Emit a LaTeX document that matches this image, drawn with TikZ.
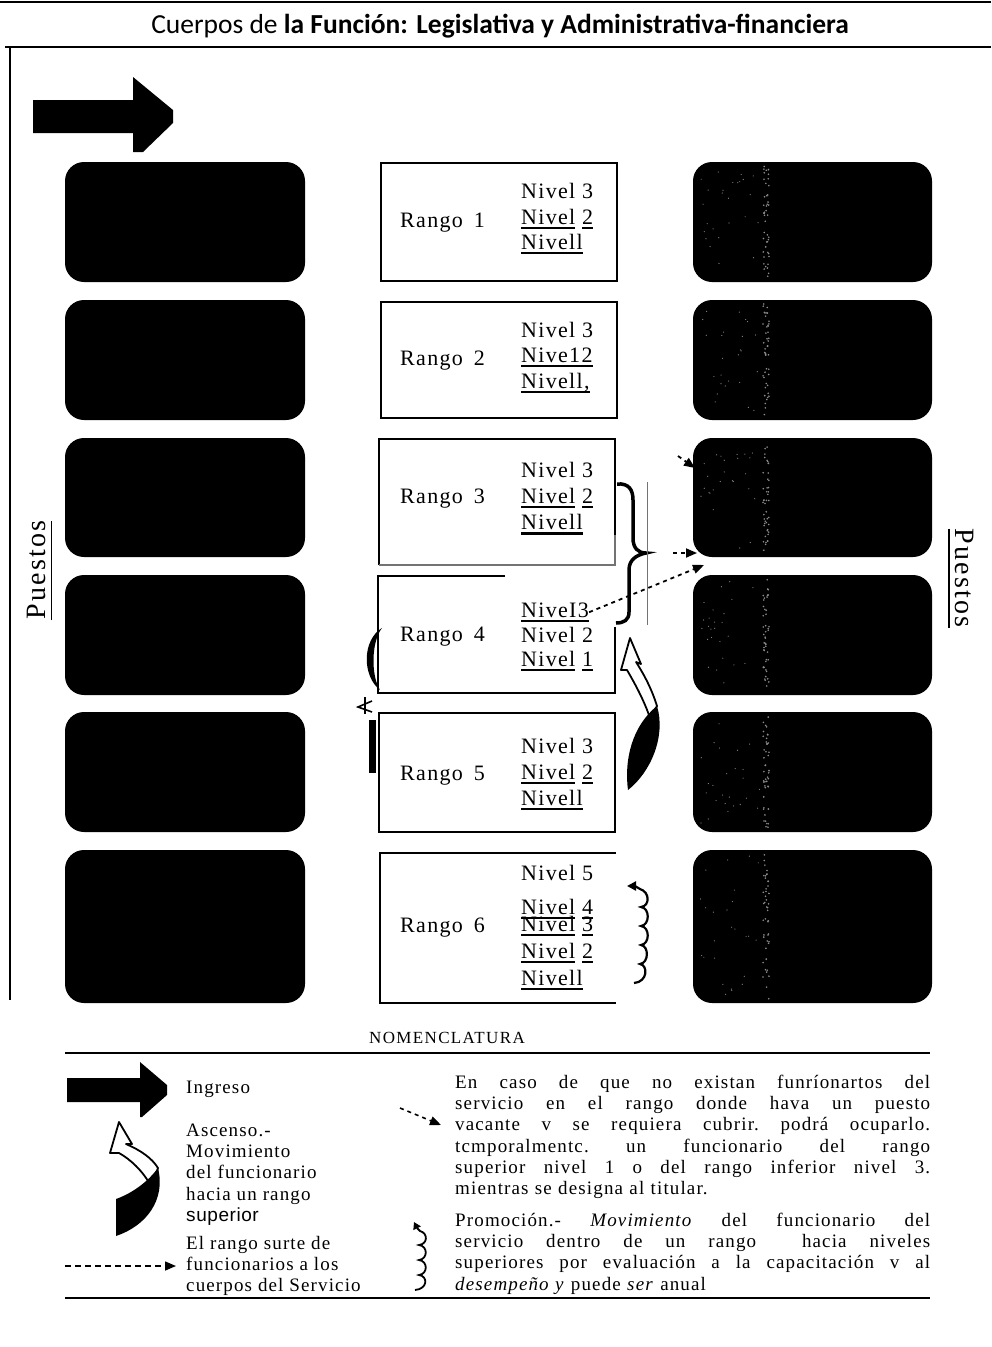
\documentclass[tikz,border=0pt]{standalone}
\usepackage{fontspec}
\setmainfont{Liberation Serif}
\newfontfamily\titlefont{Carlito}
\newfontfamily\sansfont{Liberation Sans}
\usetikzlibrary{arrows.meta}
\newcommand\uln[1]{\setbox0=\hbox{#1}\rlap{\rule[-5pt]{\wd0}{1.8pt}}\box0\relax}
\newcommand\ulthick[1]{\setbox0=\hbox{#1}\rlap{\rule[-6pt]{\wd0}{3pt}}\box0\relax}
\newcommand\ulpuesto[1]{\setbox0=\hbox{#1}\rlap{\rule[-7pt]{\wd0}{1.5pt}}\box0\relax}
\newcommand\boxfont{\fontsize{22}{25}\selectfont\addfontfeature{LetterSpace=6}}
\newcommand\legfont{\fontsize{19}{21.3}\selectfont\addfontfeature{LetterSpace=6}}
\newcommand\jl[1]{\hbox to 475pt{#1}}
\newcommand\g{\hspace{4pt plus 1fill}}
\begin{document}
\begin{tikzpicture}[x=1pt,y=-1pt,
  darkbox/.style={fill=black, rounded corners=19pt, inner sep=0, minimum height=120pt},
  lbox/.style={darkbox, minimum width=240pt},
  rbox/.style={darkbox, minimum width=239pt},
  rline/.style={line width=2.2pt},
  nv/.style={anchor=base west, inner sep=0, font=\boxfont},
  dotarrow/.style={line width=1.8pt, dash pattern=on 4pt off 4pt, -{Triangle[length=11pt,width=9pt]}},
  legtext/.style={anchor=north west, inner sep=0, font=\legfont, align=left},
  speck/.style={fill=white!55!black}
]
\useasboundingbox (0,0) rectangle (991,1347);
% frame lines
\draw[line width=2.5pt] (0,2) -- (991,2);
\draw[line width=2pt] (5,47) -- (991,47);
\draw[line width=1.5pt] (10,47) -- (10,1000);
\node[font=\titlefont\fontsize{27.5}{30}\selectfont, inner sep=0] (title) at (500,26)
  {Cuerpos de \textbf{la Función: Legislativa y Administrativa-financiera}};
% entry arrow
\fill (33,100) -- (133,100) -- (133,77) -- (173,110) -- (173,123) -- (143,152) -- (133,152) -- (133,133) -- (33,133) -- cycle;
% dark boxes
\pgfmathsetseed{7}
\foreach \n/\c/\h in {1/222/120,2/360/120,3/497.5/119,4/635/120,5/772/120,6/926.5/153}{
  \node[lbox, minimum height=\h pt] (L\n) at (185,\c) {};
  \node[rbox, minimum height=\h pt] (R\n) at (812.5,\c) {};
  \foreach \k in {1,...,45}{
    \pgfmathsetmacro\yy{\c-\h/2+4+rnd*(\h-8)}
    \pgfmathsetmacro\xx{763+rnd*6}
    \fill[speck] (\xx,\yy) circle (0.9pt);
  }
  \foreach \k in {1,...,25}{
    \pgfmathsetmacro\yy{\c-\h/2+6+rnd*(\h-12)}
    \pgfmathsetmacro\xx{700+rnd*60}
    \fill[speck] (\xx,\yy) circle (0.6pt);
  }
}
% Puestos labels
\node[rotate=90, anchor=base, inner sep=0, font=\fontsize{28}{30}\selectfont\addfontfeature{LetterSpace=8}] (pl) at (45,570) {\ulpuesto{Puestos}};
\node[rotate=-90, anchor=base, inner sep=0, font=\fontsize{28}{30}\selectfont\addfontfeature{LetterSpace=8}] (pr) at (955,578) {\ulpuesto{Puestos}};
% rango boxes
\draw[rline] (381,163) rectangle (617,281);
\draw[rline] (381,302) rectangle (617,418);
\draw[rline] (379,565) -- (379,439) -- (615,439) -- (615,535);
\draw[line width=1.2pt, black!55] (379,565) -- (615,565) -- (615,535);
\draw[rline] (505,576) -- (378,576) -- (378,693) -- (615,693) -- (615,627);
\draw[rline] (379,713) rectangle (615,832);
\draw[rline] (616,853) -- (380,853) -- (380,1003) -- (616,1003);
% rango texts
\node[nv] (r1) at (400,227) {Rango\hspace{11pt}1};
\node[nv] (n13) at (521,198) {Nivel 3};
\node[nv] (n12) at (521,224) {\uln{Nivel} \uln{2}};
\node[nv] (n11) at (521,249) {\uln{Nivell}};
\node[nv] (r2) at (400,365) {Rango\hspace{11pt}2};
\node[nv] (n23) at (521,337) {Nivel 3};
\node[nv] (n22) at (521,362) {\uln{Nive12}};
\node[nv] (n21) at (521,388) {\uln{Nivell,}};
\node[nv] (r3) at (400,503) {Rango\hspace{11pt}3};
\node[nv] (n33) at (521,477) {Nivel 3};
\node[nv] (n32) at (521,503) {\uln{Nivel} \uln{2}};
\node[nv] (n31) at (521,529) {\ulthick{Nivell}};
\node[nv] (r4) at (400,641) {Rango\hspace{11pt}4};
\node[nv] (n43) at (521,617) {\uln{NiveI3}};
\node[nv] (n42) at (521,642) {Nivel 2};
\node[nv] (n41) at (521,666) {\uln{Nivel} \uln{1}};
\node[nv] (r5) at (400,780) {Rango\hspace{11pt}5};
\node[nv] (n53) at (521,753) {Nivel 3};
\node[nv] (n52) at (521,779) {\uln{Nivel} \uln{2}};
\node[nv] (n51) at (521,805) {\uln{Nivell}};
\node[nv] (r6) at (400,932) {Rango\hspace{11pt}6};
\node[nv] (n65) at (521,880) {Nivel 5};
\node[nv] (n64) at (521,914) {\uln{Nivel} \uln{4}};
\node[nv] (n63) at (521,931) {\uln{Nivel} \uln{3}};
\node[nv] (n62) at (521,958) {\uln{Nivel} \uln{2}};
\node[nv] (n61) at (521,985) {\uln{Nivell}};
% brace between rango 3 and 4
\draw[line width=3.5pt] (617,484) .. controls (629,483) and (633,490) .. (633,500) -- (633,538)
  .. controls (633,548) and (638,553) .. (646,553)
  .. controls (636,555) and (629,560) .. (629,570) -- (629,612)
  .. controls (629,620) and (624,623) .. (616,623);
\draw[line width=1pt, black!55] (647,482) -- (647,625);
% dashed arrows (temporary occupation)
\coordinate (a3s) at (678,456);
\coordinate (a3t) at (695,468);
\coordinate (b3s) at (673,553);
\coordinate (b3t) at (697,553);
\coordinate (c4t) at (704,565);
\draw[dotarrow] (a3s) -- (a3t);
\draw[dotarrow] (b3s) -- (b3t);
\draw[dotarrow] (n43.east) -- (c4t);
% left ascenso remnants
\fill (382,628) .. controls (362,640) and (362,676) .. (380,690) .. controls (371,676) and (371,642) .. (382,628) -- cycle;
\draw[line width=1.6pt] (372,701) -- (358,707) -- (372,712);
\draw[line width=1.6pt] (365,697) -- (365,714);
\fill (369,720) rectangle (376,773);
% right ascenso arrow
\draw[fill=white, line width=1.8pt, line join=round] (630,638) -- (641,664) -- (636,662) .. controls (645,676) and (652,690) .. (657,706)
  -- (650,718) .. controls (644,700) and (634,682) .. (627,670) -- (621,670) -- cycle;
\fill (628,790) .. controls (624,760) and (632,726) .. (657,706) .. controls (666,736) and (651,772) .. (628,790) -- cycle;
% promotion wavy arrow (rango 6)
\draw[line width=2.2pt, -{Triangle[length=9pt,width=9pt]}] (634,983) .. controls (648,982) and (648,965) .. (640,964)
  .. controls (649,963) and (649,946) .. (641,945) .. controls (650,944) and (650,927) .. (641,926)
  .. controls (650,925) and (650,908) .. (641,907) .. controls (650,906) and (650,892) .. (640,889)
  .. controls (637,887) and (634,886) .. (627,886);
% NOMENCLATURA
\node[inner sep=0, font=\fontsize{17}{20}\selectfont\addfontfeature{LetterSpace=8}] (nom) at (447,1038) {NOMENCLATURA};
\draw[line width=1.8pt] (65,1053) -- (930,1053);
\draw[line width=1.8pt] (65,1298) -- (930,1298);
% legend: ingreso
\fill (67,1078) -- (140,1078) -- (140,1062) -- (167,1085) -- (167,1095) -- (142,1117) -- (140,1117) -- (140,1102) -- (67,1102) -- cycle;
\node[anchor=base west, inner sep=0, font=\legfont] (ing) at (186,1093) {Ingreso};
% legend: ascenso
\draw[fill=white, line width=1.8pt, line join=round] (119,1122) -- (132,1144) -- (126,1144) .. controls (140,1150) and (152,1158) .. (158,1168)
  -- (151,1186) .. controls (143,1171) and (130,1159) .. (119,1153) -- (110,1153) -- cycle;
\fill (116,1236) -- (116,1199) .. controls (130,1194) and (146,1184) .. (158,1168) .. controls (166,1200) and (146,1226) .. (116,1236) -- cycle;
\node[legtext] (asc) at (186,1121) {\strut Ascenso.-\\\strut Movimiento\\\strut del funcionario\\\strut hacia un rango\\\strut{\sansfont\addfontfeature{LetterSpace=3}superior}};
% legend: surte
\coordinate (ds) at (65,1266);
\coordinate (dt) at (176,1266);
\draw[line width=1.5pt, dash pattern=on 6pt off 4pt, -{Triangle[length=11pt,width=9pt]}] (ds) -- (dt);
\node[legtext] (surte) at (186,1234) {\strut El rango surte de\\\strut funcionarios a los\\\strut cuerpos del Servicio};
% legend: temporary
\coordinate (ts) at (400,1108);
\coordinate (tt) at (441,1125);
\draw[dotarrow, line width=1.6pt] (ts) -- (tt);
\node[legtext, text width=475pt] (temp) at (455,1073) {%
\strut\jl{En\g caso\g de\g que\g no\g existan\g funríonartos\g del}\\
\strut\jl{servicio\g en\g el\g rango\g donde\g hava\g un\g puesto}\\
\strut\jl{vacante\g v\g se\g requiera\g cubrir.\g podrá\g ocuparlo.}\\
\strut\jl{tcmporalmentc.\g un\g funcionario\g del\g rango}\\
\strut\jl{superior\g nivel\g 1\g o\g del\g rango\g inferior\g nivel\g 3.}\\
\strut mientras se designa al titular.};
% legend: promocion
\draw[line width=1.8pt, -{Triangle[length=7pt,width=8pt]}] (415,1290) .. controls (428,1289) and (428,1276) .. (419,1275)
  .. controls (428,1274) and (428,1261) .. (419,1260) .. controls (428,1259) and (428,1246) .. (419,1245)
  .. controls (428,1244) and (428,1233) .. (420,1231) .. controls (418,1229) and (417,1228) .. (414,1222);
\node[legtext, text width=475pt] (prom) at (455,1211) {%
\strut\jl{Promoción.-\g \textit{Movimiento}\g del\g funcionario\g del}\\
\strut\jl{servicio\g dentro\g de\g un\g rango\g\g hacia\g niveles}\\
\strut\jl{superiores\g por\g evaluación\g a\g la\g capacitación\g v\g al}\\
\strut\textit{desempeño y} puede \textit{ser} anual};
\end{tikzpicture}
\end{document}
